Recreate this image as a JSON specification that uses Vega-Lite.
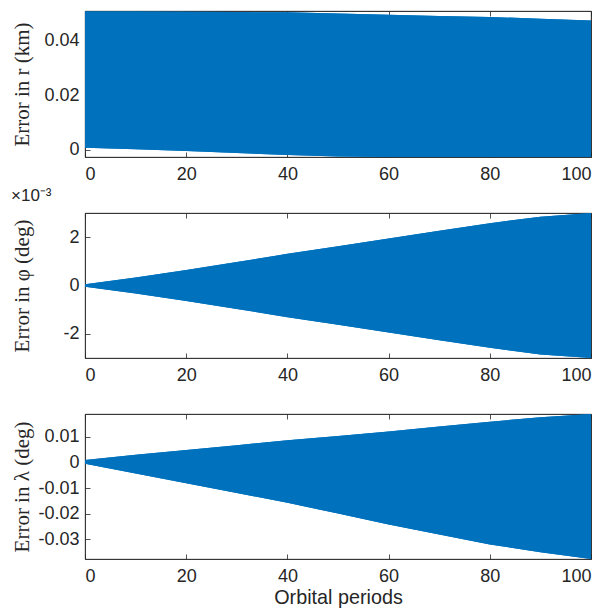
{
  "$schema": "https://vega.github.io/schema/vega-lite/v6.json",
  "padding": {"left": 10, "top": 10, "right": 15, "bottom": 5},
  "background": "white",
  "bounds": "flush",
  "spacing": 56,
  "config": {
    "font": "Liberation Sans",
    "view": {"stroke": "#262626", "strokeWidth": 0.8},
    "axis": {
      "grid": false,
      "domainColor": "#262626",
      "domainWidth": 0.8,
      "tickColor": "#262626",
      "tickWidth": 0.8,
      "tickSize": -5,
      "labelColor": "#262626",
      "labelFont": "Liberation Sans",
      "labelFontSize": 18,
      "titleColor": "#262626",
      "titleFontWeight": "normal"
    },
    "area": {"color": "#0072BD", "opacity": 1}
  },
  "datasets": {
    "r": [
      {"x": 0, "hi": 0.0506, "lo": 0.0008},
      {"x": 10, "hi": 0.0506, "lo": 0.0002},
      {"x": 20, "hi": 0.0505, "lo": -0.0004},
      {"x": 30, "hi": 0.0504, "lo": -0.0011},
      {"x": 40, "hi": 0.0503, "lo": -0.0019},
      {"x": 50, "hi": 0.0499, "lo": -0.0024},
      {"x": 60, "hi": 0.0494, "lo": -0.0026},
      {"x": 70, "hi": 0.049, "lo": -0.0026},
      {"x": 80, "hi": 0.0486, "lo": -0.0026},
      {"x": 90, "hi": 0.048, "lo": -0.0026},
      {"x": 100, "hi": 0.0473, "lo": -0.0026}
    ],
    "phi": [
      {"x": 0, "hi": 0.00005, "lo": -0.00005},
      {"x": 10, "hi": 0.00033, "lo": -0.00033},
      {"x": 20, "hi": 0.00064, "lo": -0.00064},
      {"x": 30, "hi": 0.00097, "lo": -0.00097},
      {"x": 40, "hi": 0.00131, "lo": -0.00131},
      {"x": 50, "hi": 0.00162, "lo": -0.00162},
      {"x": 60, "hi": 0.00194, "lo": -0.00194},
      {"x": 70, "hi": 0.00227, "lo": -0.00227},
      {"x": 80, "hi": 0.00258, "lo": -0.00258},
      {"x": 90, "hi": 0.00285, "lo": -0.00285},
      {"x": 100, "hi": 0.003, "lo": -0.003}
    ],
    "lam": [
      {"x": 0, "hi": 0.001, "lo": -0.0005},
      {"x": 10, "hi": 0.003, "lo": -0.0043},
      {"x": 20, "hi": 0.0049, "lo": -0.0081},
      {"x": 30, "hi": 0.0068, "lo": -0.0119},
      {"x": 40, "hi": 0.0087, "lo": -0.0158},
      {"x": 50, "hi": 0.0104, "lo": -0.02},
      {"x": 60, "hi": 0.0121, "lo": -0.0243},
      {"x": 70, "hi": 0.0141, "lo": -0.0282},
      {"x": 80, "hi": 0.016, "lo": -0.0321},
      {"x": 90, "hi": 0.0177, "lo": -0.0352},
      {"x": 100, "hi": 0.019, "lo": -0.0378}
    ]
  },
  "vconcat": [
    {
      "width": 506,
      "height": 146,
      "data": {"name": "r"},
      "layer": [
        {
          "mark": {"type": "area"},
          "encoding": {
            "x": {"field": "x", "type": "quantitative", "scale": {"domain": [0, 100], "nice": false},
                  "axis": {"orient": "bottom", "values": [0, 20, 40, 60, 80, 100], "title": null, "labelPadding": 13}},
            "y": {"field": "hi", "type": "quantitative", "scale": {"domain": [-0.0026, 0.0508], "nice": false, "zero": false},
                  "axis": {"orient": "left", "values": [0, 0.02, 0.04], "labelPadding": 11,
                           "labelExpr": "datum.value < 0 ? '-' + format(-datum.value, '~g') : format(datum.value, '~g')",
                           "title": "Error in r (km)", "titleFont": "Liberation Serif", "titleFontSize": 21, "titleX": -53}},
            "y2": {"field": "lo"}
          }
        },
        {
          "mark": {"type": "area"},
          "encoding": {
            "x": {"field": "x", "type": "quantitative", "axis": {"orient": "top", "values": [0, 20, 40, 60, 80, 100], "labels": false, "title": null}},
            "y": {"field": "hi", "type": "quantitative", "axis": {"orient": "right", "values": [0, 0.02, 0.04], "labels": false, "title": null}},
            "y2": {"field": "lo"}
          }
        }
      ],
      "resolve": {"axis": {"x": "independent", "y": "independent"}}
    },
    {
      "width": 506,
      "height": 145,
      "title": {"text": "×10⁻³", "anchor": "start", "fontSize": 17, "font": "Liberation Sans", "fontWeight": "normal", "color": "#262626", "offset": 8},
      "data": {"name": "phi"},
      "layer": [
        {
          "mark": {"type": "area"},
          "encoding": {
            "x": {"field": "x", "type": "quantitative", "scale": {"domain": [0, 100], "nice": false},
                  "axis": {"orient": "bottom", "values": [0, 20, 40, 60, 80, 100], "title": null, "labelPadding": 13}},
            "y": {"field": "hi", "type": "quantitative", "scale": {"domain": [-0.003, 0.003], "nice": false, "zero": false},
                  "axis": {"orient": "left", "values": [-0.002, 0, 0.002], "labelPadding": 11,
                           "labelExpr": "datum.value < 0 ? '-' + format(round(-datum.value * 1000), 'd') : format(round(datum.value * 1000), 'd')",
                           "title": "Error in φ (deg)", "titleFont": "Liberation Serif", "titleFontSize": 21, "titleX": -53}},
            "y2": {"field": "lo"}
          }
        },
        {
          "mark": {"type": "area"},
          "encoding": {
            "x": {"field": "x", "type": "quantitative", "axis": {"orient": "top", "values": [0, 20, 40, 60, 80, 100], "labels": false, "title": null}},
            "y": {"field": "hi", "type": "quantitative", "axis": {"orient": "right", "values": [-0.002, 0, 0.002], "labels": false, "title": null}},
            "y2": {"field": "lo"}
          }
        }
      ],
      "resolve": {"axis": {"x": "independent", "y": "independent"}}
    },
    {
      "width": 506,
      "height": 145,
      "data": {"name": "lam"},
      "layer": [
        {
          "mark": {"type": "area"},
          "encoding": {
            "x": {"field": "x", "type": "quantitative", "scale": {"domain": [0, 100], "nice": false},
                  "axis": {"orient": "bottom", "values": [0, 20, 40, 60, 80, 100], "labelPadding": 13,
                           "title": "Orbital periods", "titleFont": "Liberation Sans", "titleFontSize": 19.8, "titlePadding": 2}},
            "y": {"field": "hi", "type": "quantitative", "scale": {"domain": [-0.0378, 0.019], "nice": false, "zero": false},
                  "axis": {"orient": "left", "values": [-0.03, -0.02, -0.01, 0, 0.01], "labelPadding": 11,
                           "labelExpr": "datum.value < 0 ? '-' + format(-datum.value, '~g') : format(datum.value, '~g')",
                           "title": "Error in λ (deg)", "titleFont": "Liberation Serif", "titleFontSize": 21, "titleX": -53}},
            "y2": {"field": "lo"}
          }
        },
        {
          "mark": {"type": "area"},
          "encoding": {
            "x": {"field": "x", "type": "quantitative", "axis": {"orient": "top", "values": [0, 20, 40, 60, 80, 100], "labels": false, "title": null}},
            "y": {"field": "hi", "type": "quantitative", "axis": {"orient": "right", "values": [-0.03, -0.02, -0.01, 0, 0.01], "labels": false, "title": null}},
            "y2": {"field": "lo"}
          }
        }
      ],
      "resolve": {"axis": {"x": "independent", "y": "independent"}}
    }
  ]
}
